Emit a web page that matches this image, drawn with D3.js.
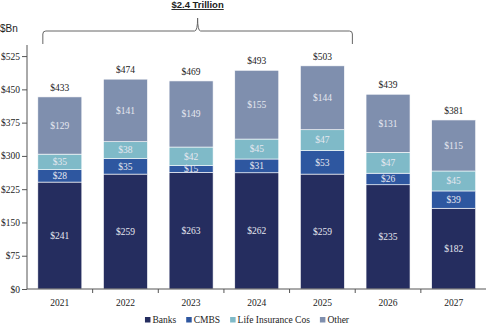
<!DOCTYPE html>
<html>
<head>
<script src="https://cdn.jsdelivr.net/npm/d3@7"></script>
<style>
  body { margin: 0; background: #fff; }
  svg { display: block; }
</style>
</head>
<body>
<script>
const years = ['2021', '2022', '2023', '2024', '2025', '2026', '2027'];
const banks = [241, 259, 263, 262, 259, 235, 182];
const cmbs = [28, 35, 15, 31, 53, 26, 39];
const lifeCos = [35, 38, 42, 45, 47, 47, 45];
const other = [129, 141, 149, 155, 144, 131, 115];
const totals = [433, 474, 469, 493, 503, 439, 381];
const seriesNames = ['Banks', 'CMBS', 'Life Insurance Cos', 'Other'];
const colors = ['#252d5f', '#2e57a0', '#7fbac8', '#7f8fae'];
const yTicks = [0, 75, 150, 225, 300, 375, 450, 525];

const serif = "'Liberation Serif', 'Times New Roman', serif";
const sans = "'Liberation Sans', Arial, sans-serif";

const width = 486, height = 327;
const svg = d3.select('body').append('svg').attr('width', width).attr('height', height);

const rows = years.map((yr, i) => ({
  year: yr, Banks: banks[i], CMBS: cmbs[i], 'Life Insurance Cos': lifeCos[i], Other: other[i], total: totals[i]
}));

const x = d3.scaleBand().domain(years).range([27, 486.5]).paddingInner(0.33).paddingOuter(0.165);
const y = d3.scaleLinear().domain([0, 550]).range([289, 45]);

const stacked = d3.stack().keys(seriesNames)(rows);

// bars
svg.append('g').selectAll('g').data(stacked).join('g')
  .attr('fill', (d, i) => colors[i])
  .selectAll('rect').data(d => d).join('rect')
  .attr('x', d => x(d.data.year))
  .attr('width', x.bandwidth())
  .attr('y', d => y(d[1]))
  .attr('height', d => y(d[0]) - y(d[1]))
  .attr('stroke', '#ffffff')
  .attr('stroke-width', 0.6);

// segment labels
svg.append('g').selectAll('g').data(stacked).join('g')
  .selectAll('text').data(d => d).join('text')
  .attr('x', d => x(d.data.year) + x.bandwidth() / 2)
  .attr('y', d => y((d[0] + d[1]) / 2) + 3.3)
  .attr('text-anchor', 'middle')
  .style('font-family', serif)
  .style('font-size', '9.5px')
  .attr('fill', '#e6e8f0')
  .text(d => '$' + (d[1] - d[0]));

// totals
svg.append('g').selectAll('text').data(rows).join('text')
  .attr('x', d => x(d.year) + x.bandwidth() / 2)
  .attr('y', d => y(d.total) - 6)
  .attr('text-anchor', 'middle')
  .style('font-family', serif)
  .style('font-size', '9.5px')
  .attr('fill', '#222')
  .text(d => '$' + d.total);

// y axis
const yAxis = svg.append('g').attr('transform', 'translate(27,0)')
  .call(d3.axisLeft(y).tickValues(yTicks).tickSize(5).tickPadding(2).tickFormat(d => '$' + d));
yAxis.select('.domain').attr('stroke', '#555').attr('d', `M0,${y(550)}V${y(0)}`);
yAxis.selectAll('.tick line').attr('stroke', '#555');
yAxis.selectAll('.tick text').attr('fill', '#222')
  .style('font-family', serif).style('font-size', '9.5px');

// x axis
const xAxis = svg.append('g').attr('transform', 'translate(0,289)')
  .call(d3.axisBottom(x).tickSize(0).tickPadding(10));
xAxis.select('.domain').attr('stroke', '#555').attr('d', `M27,0H486.5`);
xAxis.selectAll('.tick text').attr('fill', '#222')
  .style('font-family', serif).style('font-size', '9.5px');
xAxis.selectAll('line.sep').data(years).join('line').attr('class', 'sep')
  .attr('x1', d => x(d) + x.bandwidth() + x.step() * x.paddingInner() / 2)
  .attr('x2', d => x(d) + x.bandwidth() + x.step() * x.paddingInner() / 2)
  .attr('y1', 0).attr('y2', 4)
  .attr('stroke', '#555');

// unit label
svg.append('text').attr('x', 0).attr('y', 32)
  .style('font-family', sans).style('font-size', '10px')
  .attr('fill', '#222').text('$Bn');

// brace over 2021-2025
const bx0 = x('2021') + 5;
const bx1 = x('2025') + x.bandwidth() + 8;
const bm = (bx0 + bx1) / 2;
const by = 31, btop = 18, bbot = 44;
svg.append('path')
  .attr('d', `M${bx0},${bbot} L${bx0},${by + 3} Q${bx0},${by} ${bx0 + 3},${by} L${bm - 3},${by} Q${bm},${by} ${bm},${btop} Q${bm},${by} ${bm + 3},${by} L${bx1 - 3},${by} Q${bx1},${by} ${bx1},${by + 3} L${bx1},${bbot}`)
  .attr('fill', 'none').attr('stroke', '#666').attr('stroke-width', 1);

svg.append('text').attr('x', bm).attr('y', 8)
  .attr('text-anchor', 'middle')
  .style('font-family', sans).style('font-weight', 'bold').style('font-size', '9.5px')
  .attr('fill', '#222')
  .attr('text-decoration', 'underline')
  .text('$2.4 Trillion');

// legend
const legend = svg.append('g');
let lx = 0;
const itemGap = 10;
seriesNames.forEach((name, i) => {
  const g = legend.append('g').attr('transform', `translate(${lx},0)`);
  g.append('rect').attr('x', 0).attr('y', -6).attr('width', 5.5).attr('height', 5.5).attr('fill', colors[i]);
  const t = g.append('text').attr('x', 7.5).attr('y', 0)
    .style('font-family', serif).style('font-size', '9.5px')
    .attr('fill', '#222').text(name);
  lx += 7.5 + t.node().getComputedTextLength() + itemGap;
});
const legendW = lx - itemGap;
legend.attr('transform', `translate(${247 - legendW / 2},323)`);
</script>
</body>
</html>
